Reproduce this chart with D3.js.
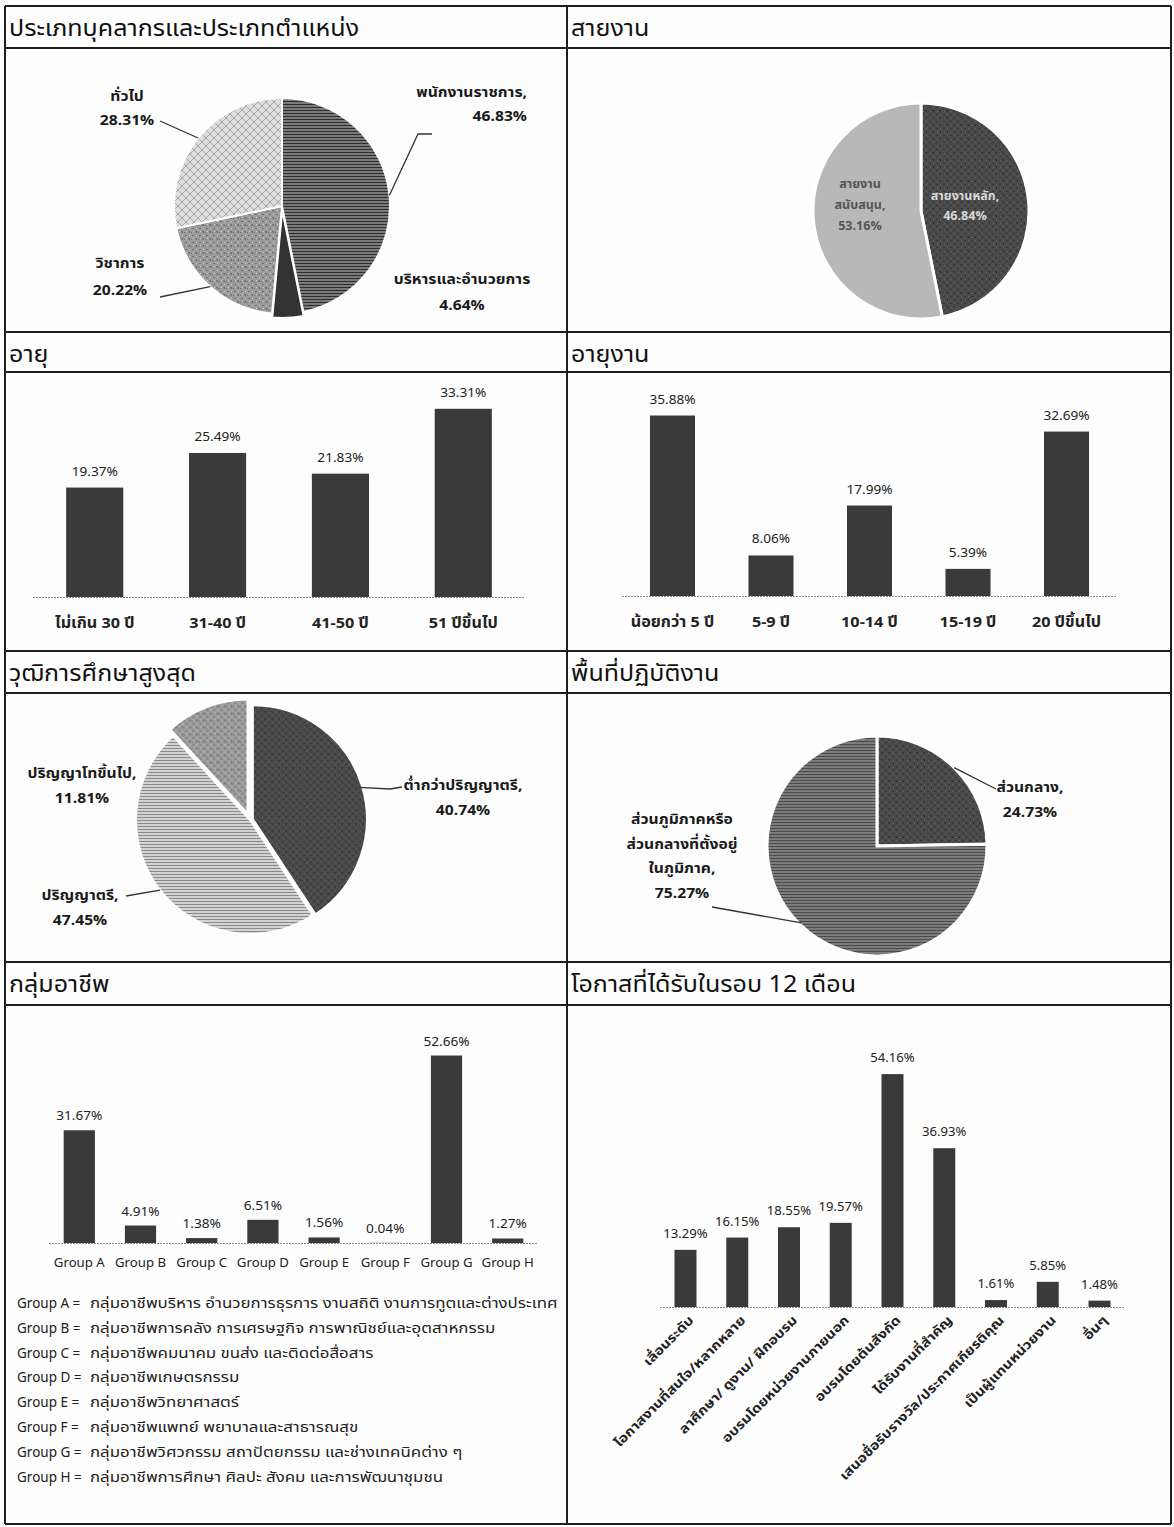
<!DOCTYPE html>
<html>
<head>
<meta charset="utf-8">
<script src="https://cdn.jsdelivr.net/npm/d3@7"></script>
<style>
  body { margin: 0; background: #fff; }
  svg { display: block; font-family: Tahoma, "Noto Sans Thai", "Noto Sans", sans-serif; }
</style>
</head>
<body>
<svg id="chart"></svg>
<script>
// panel titles (left/right per row)
const panelTitles = [
  ["ประเภทบุคลากรและประเภทตำแหน่ง", "สายงาน"],
  ["อายุ", "อายุงาน"],
  ["วุฒิการศึกษาสูงสุด", "พื้นที่ปฏิบัติงาน"],
  ["กลุ่มอาชีพ", "โอกาสที่ได้รับในรอบ 12 เดือน"]
];

const staffTypes = ["พนักงานราชการ", "บริหารและอำนวยการ", "วิชาการ", "ทั่วไป"];
const staffValues = [46.83, 4.64, 20.22, 28.31];

const lineTypes = ["สายงานหลัก", "สายงานสนับสนุน"];
const lineValues = [46.84, 53.16];

const ageGroups = ["ไม่เกิน 30 ปี", "31-40 ปี", "41-50 ปี", "51 ปีขึ้นไป"];
const ageValues = [19.37, 25.49, 21.83, 33.31];

const tenureGroups = ["น้อยกว่า 5 ปี", "5-9 ปี", "10-14 ปี", "15-19 ปี", "20 ปีขึ้นไป"];
const tenureValues = [35.88, 8.06, 17.99, 5.39, 32.69];

const eduLevels = ["ต่ำกว่าปริญญาตรี", "ปริญญาตรี", "ปริญญาโทขึ้นไป"];
const eduValues = [40.74, 47.45, 11.81];

const areaTypes = ["ส่วนกลาง", "ส่วนภูมิภาคหรือส่วนกลางที่ตั้งอยู่ในภูมิภาค"];
const areaValues = [24.73, 75.27];

const jobGroups = ["Group A", "Group B", "Group C", "Group D", "Group E", "Group F", "Group G", "Group H"];
const jobValues = [31.67, 4.91, 1.38, 6.51, 1.56, 0.04, 52.66, 1.27];
const jobGroupNames = [
  "กลุ่มอาชีพบริหาร อำนวยการธุรการ งานสถิติ งานการทูตและต่างประเทศ",
  "กลุ่มอาชีพการคลัง การเศรษฐกิจ การพาณิชย์และอุตสาหกรรม",
  "กลุ่มอาชีพคมนาคม ขนส่ง และติดต่อสื่อสาร",
  "กลุ่มอาชีพเกษตรกรรม",
  "กลุ่มอาชีพวิทยาศาสตร์",
  "กลุ่มอาชีพแพทย์ พยาบาลและสาธารณสุข",
  "กลุ่มอาชีพวิศวกรรม สถาปัตยกรรม และช่างเทคนิคต่าง ๆ",
  "กลุ่มอาชีพการศึกษา ศิลปะ สังคม และการพัฒนาชุมชน"
];

const chances = [
  "เลื่อนระดับ",
  "โอกาสงานที่สนใจ/หลากหลาย",
  "ลาศึกษา/ ดูงาน/ ฝึกอบรม",
  "อบรมโดยหน่วยงานภายนอก",
  "อบรมโดยต้นสังกัด",
  "ได้รับงานที่สำคัญ",
  "เสนอชื่อรับรางวัล/ประกาศเกียรติคุณ",
  "เป็นผู้แทนหน่วยงาน",
  "อื่นๆ"
];
const chanceValues = [13.29, 16.15, 18.55, 19.57, 54.16, 36.93, 1.61, 5.85, 1.48];

const W = 1174, H = 1527;
const pct = d => d.toFixed(2) + "%";

const svg = d3.select("#chart").attr("width", W).attr("height", H);
svg.append("rect").attr("width", W).attr("height", H).attr("fill", "#fdfdfd");

// textures for the pies
const defs = svg.append("defs");
function stripes(id, bg, fg, gap) {
  const p = defs.append("pattern").attr("id", id).attr("patternUnits", "userSpaceOnUse")
    .attr("width", 6).attr("height", gap);
  p.append("rect").attr("width", 6).attr("height", gap).attr("fill", bg);
  p.append("rect").attr("width", 6).attr("height", 1).attr("fill", fg);
}
stripes("hstripe", "#7a7a7a", "#2e2e2e", 3);
stripes("lightstripe", "#d2d2d2", "#8a8a8a", 3);
stripes("midstripe", "#7c7c7c", "#4a4a4a", 3);
const hatch = defs.append("pattern").attr("id", "hatch").attr("patternUnits", "userSpaceOnUse")
  .attr("width", 8).attr("height", 8);
hatch.append("rect").attr("width", 8).attr("height", 8).attr("fill", "#dcdcdc");
hatch.append("path").attr("d", "M0,0L8,8M8,0L0,8").attr("stroke", "#9a9a9a").attr("stroke-width", 0.8);
const mottle = defs.append("pattern").attr("id", "mottle").attr("patternUnits", "userSpaceOnUse")
  .attr("width", 7).attr("height", 7);
mottle.append("rect").attr("width", 7).attr("height", 7).attr("fill", "#9c9c9c");
mottle.append("path").attr("d", "M1,1h2v1h-2zM4,4h2v2h-1zM0,5h1v1h-1z").attr("fill", "#6f6f6f");
mottle.append("path").attr("d", "M5,1h1v1h-1zM2,4h1v1h-1z").attr("fill", "#cfcfcf");
const mottleDark = defs.append("pattern").attr("id", "mottleDark").attr("patternUnits", "userSpaceOnUse")
  .attr("width", 7).attr("height", 7);
mottleDark.append("rect").attr("width", 7).attr("height", 7).attr("fill", "#4a4a4a");
mottleDark.append("path").attr("d", "M1,1h2v1h-2zM4,4h2v2h-1z").attr("fill", "#343434");
mottleDark.append("path").attr("d", "M5,1h1v1h-1zM2,5h1v1h-1z").attr("fill", "#666");

// text stretched sideways a bit, the scan used a wide Thai face
function wideText(parent, x, y, str, opts = {}) {
  const g = parent.append("g").attr("transform", `translate(${x},${y}) rotate(${opts.rot || 0}) scale(${opts.sx || 1.1},1)`);
  return g.append("text").attr("text-anchor", opts.anchor || "start")
    .attr("font-size", opts.size || 14).attr("font-weight", opts.weight || "normal")
    .attr("fill", opts.fill || "#1a1a1a").text(str);
}

// table grid
const rowLines = [6, 48, 332, 372, 651, 693, 962, 1005, 1524];
const colX = [5, 567, 1171];
const grid = svg.append("g").attr("stroke", "#1e1e1e").attr("stroke-width", 2);
rowLines.forEach(y => grid.append("line").attr("x1", colX[0]).attr("x2", colX[2]).attr("y1", y).attr("y2", y));
colX.forEach(x => grid.append("line").attr("x1", x).attr("x2", x).attr("y1", rowLines[0]).attr("y2", rowLines[rowLines.length - 1]));

panelTitles.forEach((pair, i) => {
  pair.forEach((t, j) => {
    wideText(svg, colX[j] + 4, rowLines[i * 2] + 30, t, { size: 23, sx: 1.09, fill: "#111" });
  });
});

// ---------- pies ----------
function drawPie(cfg) {
  const g = svg.append("g").attr("transform", `translate(${cfg.cx},${cfg.cy})`);
  const arcs = d3.pie().sort(null)(cfg.values);
  const arc = d3.arc().innerRadius(0).outerRadius(cfg.r);
  g.selectAll("path").data(arcs).join("path")
    .attr("d", arc)
    .attr("fill", (d, i) => cfg.fills[i])
    .attr("stroke", "#fff").attr("stroke-width", cfg.gap || 2)
    .attr("transform", (d, i) => {
      const off = (cfg.explode || [])[i] || 0;
      const a = (d.startAngle + d.endAngle) / 2;
      return `translate(${off * Math.sin(a)},${-off * Math.cos(a)})`;
    });
  return { g, arcs };
}
function edge(cfg, d, k) {
  const a = (d.startAngle + d.endAngle) / 2;
  return [cfg.cx + cfg.r * k * Math.sin(a), cfg.cy - cfg.r * k * Math.cos(a)];
}
function label(lines, x, y, anchor, opts = {}) {
  lines.forEach((l, i) => wideText(svg, x, y + i * (opts.lh || 24), l,
    { anchor, size: opts.size || 14, sx: opts.sx || 1.12, weight: "bold", fill: opts.fill || "#1a1a1a" }));
}
function leader(points) {
  svg.append("path").attr("d", d3.line()(points)).attr("fill", "none")
    .attr("stroke", "#333").attr("stroke-width", 1.3);
}

// personnel type
const p1 = { cx: 282, cy: 206, r: 108, values: staffValues, fills: ["url(#hstripe)", "#333", "url(#mottle)", "url(#hatch)"], explode: [0, 4, 0, 0] };
const pie1 = drawPie(p1);
label([staffTypes[0] + ",", pct(staffValues[0])], 527, 97, "end");
label([staffTypes[1], pct(staffValues[1])], 462, 284, "middle", { lh: 26 });
label([staffTypes[2], pct(staffValues[2])], 120, 268, "middle", { lh: 27 });
label([staffTypes[3], pct(staffValues[3])], 127, 101, "middle", { lh: 24 });
leader([[432, 134], [418, 134], edge(p1, pie1.arcs[0], 1.0)]);
leader([[160, 297], edge(p1, pie1.arcs[2], 1.0)]);
leader([[160, 121], edge(p1, pie1.arcs[3], 1.0)]);

// work line
const p2 = { cx: 921, cy: 211, r: 108, values: lineValues, fills: ["url(#mottleDark)", "#b8b8b8"], gap: 3 };
drawPie(p2);
label([lineTypes[0] + ",", pct(lineValues[0])], 965, 200, "middle", { fill: "#d8d8d8", size: 12, lh: 20, sx: 1.05 });
label(["สายงาน", "สนับสนุน,", pct(lineValues[1])], 860, 188, "middle", { fill: "#555", size: 12, lh: 21, sx: 1.05 });

// education
const p5 = { cx: 250, cy: 820, r: 114, values: eduValues, fills: ["url(#mottleDark)", "url(#lightstripe)", "url(#mottle)"], explode: [3, 0, 7], gap: 2 };
const pie5 = drawPie(p5);
label([eduLevels[0] + ",", pct(eduValues[0])], 463, 790, "middle", { lh: 25 });
label([eduLevels[1] + ",", pct(eduValues[1])], 80, 900, "middle", { lh: 25 });
label([eduLevels[2] + ",", pct(eduValues[2])], 82, 778, "middle", { lh: 25 });
leader([[402, 787], [390, 789], edge(p5, pie5.arcs[0], 1.0)]);
leader([[126, 896], edge(p5, pie5.arcs[1], 1.0)]);

// work area
const p6 = { cx: 877, cy: 846, r: 110, values: areaValues, fills: ["url(#mottleDark)", "url(#midstripe)"], gap: 3 };
const pie6 = drawPie(p6);
label([areaTypes[0] + ",", pct(areaValues[0])], 1030, 792, "middle", { lh: 25 });
label(["ส่วนภูมิภาคหรือ", "ส่วนกลางที่ตั้งอยู่", "ในภูมิภาค,", pct(areaValues[1])], 682, 824, "middle", { lh: 24.5 });
leader([[996, 789], edge(p6, pie6.arcs[0], 1.0)]);
leader([[712, 907], edge(p6, pie6.arcs[1], 0.98)]);

// ---------- bars ----------
function drawBars(cfg) {
  const x = d3.scaleBand().domain(cfg.cats).range(cfg.xr).paddingInner(cfg.pi).paddingOuter(cfg.po);
  const y = d3.scaleLinear().domain([0, 100]).range([cfg.base, cfg.base - 100 * cfg.k]);
  const g = svg.append("g");
  const mid = c => x(c) + x.bandwidth() / 2;
  g.append("line").attr("x1", cfg.xr[0]).attr("x2", cfg.xr[1]).attr("y1", cfg.base + 0.5).attr("y2", cfg.base + 0.5)
    .attr("stroke", "#8a8a8a").attr("stroke-dasharray", "2,1");
  g.selectAll("rect").data(cfg.values).join("rect")
    .attr("x", (d, i) => x(cfg.cats[i])).attr("width", x.bandwidth())
    .attr("y", d => y(d)).attr("height", d => cfg.base - y(d))
    .attr("fill", "#3a3a3a");
  cfg.values.forEach((v, i) => wideText(g, mid(cfg.cats[i]), y(v) - (cfg.vgap || 12), pct(v),
    { anchor: "middle", size: cfg.vsize || 13, sx: 1.05, fill: "#222" }));
  cfg.cats.forEach(c => {
    if (cfg.rotate) {
      wideText(g, mid(c) + 9, cfg.base + 14, c,
        { anchor: "end", rot: -45, size: cfg.csize, sx: 1.15, weight: "bold", fill: "#222" });
    } else {
      wideText(g, mid(c), cfg.base + cfg.cgap, c,
        { anchor: "middle", size: cfg.csize, sx: cfg.csx || 1.08, weight: cfg.cweight || "bold", fill: "#222" });
    }
  });
}

drawBars({ cats: ageGroups, values: ageValues, xr: [33, 525], pi: 0.535, po: 0.27, base: 597, k: 5.65, csize: 15, cgap: 31 });
drawBars({ cats: tenureGroups, values: tenureValues, xr: [622, 1117], pi: 0.543, po: 0.284, base: 596, k: 5.03, csize: 15, cgap: 31 });
drawBars({ cats: jobGroups, values: jobValues, xr: [49, 538], pi: 0.49, po: 0.24, base: 1243, k: 3.56, csize: 12, csx: 1.1, cgap: 24, cweight: "normal", vgap: 10 });
drawBars({ cats: chances, values: chanceValues, xr: [660, 1125], pi: 0.575, po: 0.28, base: 1307, k: 4.3, csize: 13, rotate: true, vgap: 12, vsize: 12.5 });

// group legend
const legend = svg.append("g");
jobGroups.forEach((gname, i) => {
  const yy = 1308 + i * 24.8;
  legend.append("text").attr("x", 17).attr("y", yy).attr("font-size", 13.5).attr("fill", "#222").text(gname + " =");
  wideText(legend, 90, yy, jobGroupNames[i], { size: 13.5, sx: 1.25, fill: "#222" });
});
</script>
</body>
</html>
